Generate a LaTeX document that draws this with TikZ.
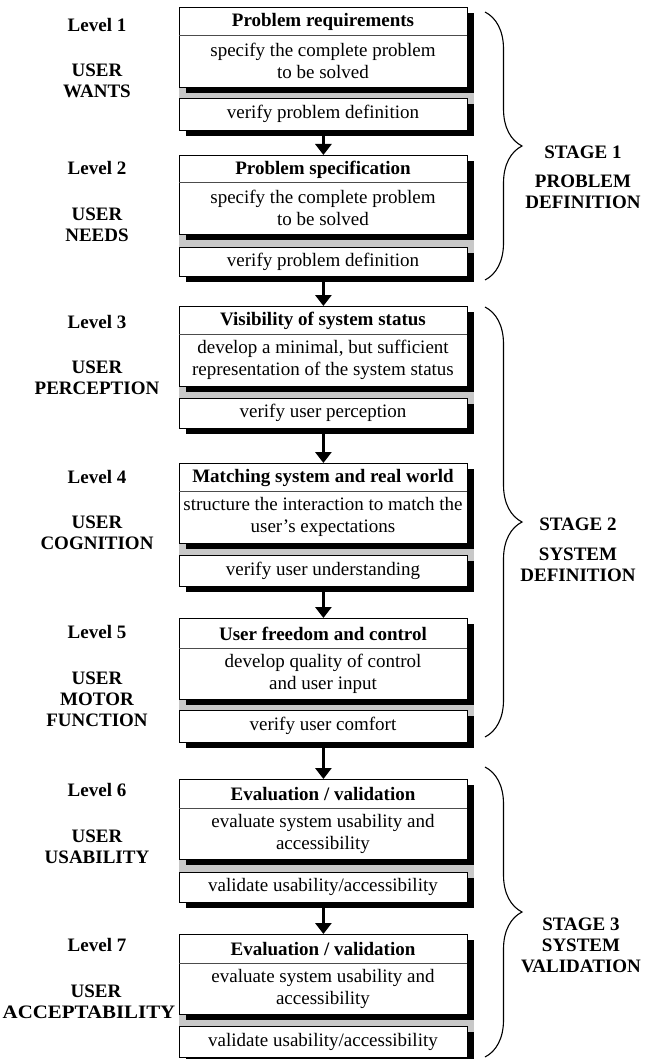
\documentclass[tikz,border=0pt]{standalone}
\usepackage{fontspec}
\setmainfont{Liberation Serif}
\usetikzlibrary{arrows.meta,decorations.pathreplacing}
\definecolor{bandgray}{RGB}{200,200,200}
\tikzset{
  boxnode/.style={draw=black, line width=0.8pt, fill=white, minimum width=288pt, inner sep=0pt, anchor=north west},
  sepline/.style={line width=0.6pt, black!70},
  titletxt/.style={font=\fontsize{19}{22}\selectfont\bfseries, inner sep=0pt},
  desctxt/.style={font=\fontsize{19}{22}\selectfont, align=center, inner sep=0pt},
  lbl/.style={font=\fontsize{19}{21}\selectfont\bfseries, align=center, inner sep=0pt},
  flowarrow/.style={line width=3pt, -{Triangle[width=16pt,length=11pt]}},
  stagebrace/.style={decorate, decoration={brace, amplitude=37pt, aspect=0.5}, line width=1.1pt},
}
% #1 name, #2 top, #3 sep, #4 bottom, #5 verify top, #6 verify bottom, #7 title, #8 desc, #9 verify text
\newcommand\mkLevel[9]{%
  \fill[bandgray] (179,#4) rectangle (474,#5+7);
  \fill[black] (186,#2+6) rectangle (474,#4+6);
  \fill[black] (186,#5+6) rectangle (474,#6+6);
  \node[boxnode, minimum height={(#4-#2)*1pt}] (#1m) at (179,#2) {};
  \draw[sepline] (179,#3) -- (467,#3);
  \node[titletxt] (#1t) at (323,{(#2+#3)/2+1}) {#7};
  \node[desctxt] (#1d) at (323,{(#3+#4)/2}) {#8};
  \node[boxnode, minimum height={(#6-#5)*1pt}] (#1v) at (179,#5) {};
  \node[desctxt] (#1vt) at (323,{(#5+#6)/2}) {#9};
}
\begin{document}
\begin{tikzpicture}[x=1pt,y=-1pt]
\useasboundingbox[fill=white] (0,0) rectangle (652,1059);

\mkLevel{A}{7}{35}{87}{98}{130}{Problem requirements}{specify the complete problem\\to be solved}{verify problem definition}
\mkLevel{B}{155}{182}{234}{247}{276}{Problem specification}{specify the complete problem\\to be solved}{verify problem definition}
\mkLevel{C}{306}{334}{386}{398}{428}{Visibility of system status}{develop a minimal, but sufficient\\representation of the system status}{verify user perception}
\mkLevel{D}{463}{491}{543}{555}{586}{Matching system and real world}{structure the interaction to match the\\user’s expectations}{verify user understanding}
\mkLevel{E}{618}{648}{699}{710}{742}{User freedom and control}{develop quality of control\\and user input}{verify user comfort}
\mkLevel{F}{779}{808}{859}{872}{902}{Evaluation / validation}{evaluate system usability and\\accessibility}{validate usability/accessibility}
\mkLevel{G}{934}{963}{1014}{1026}{1057}{Evaluation / validation}{evaluate system usability and\\accessibility}{validate usability/accessibility}

\draw[flowarrow] (Av.south) -- (Bm.north);
\draw[flowarrow] (Bv.south) -- (Cm.north);
\draw[flowarrow] (Cv.south) -- (Dm.north);
\draw[flowarrow] (Dv.south) -- (Em.north);
\draw[flowarrow] (Ev.south) -- (Fm.north);
\draw[flowarrow] (Fv.south) -- (Gm.north);

% left labels
\node[lbl] (l1) at (97,25) {Level 1};
\node[lbl] (u1) at (97,80.5) {USER\\WANTS};
\node[lbl] (l2) at (97,168) {Level 2};
\node[lbl] (u2) at (97,224.5) {USER\\NEEDS};
\node[lbl] (l3) at (97,322) {Level 3};
\node[lbl] (u3) at (97,377.5) {USER\\PERCEPTION};
\node[lbl] (l4) at (97,477) {Level 4};
\node[lbl] (u4) at (97,532.5) {USER\\COGNITION};
\node[lbl] (l5) at (97,632) {Level 5};
\node[lbl] (u5) at (97,699.5) {USER\\MOTOR\\FUNCTION};
\node[lbl] (l6) at (97,790) {Level 6};
\node[lbl] (u6) at (97,846.5) {USER\\USABILITY};
\node[lbl] (l7) at (97,945) {Level 7};
\node[lbl] (u7a) at (96,991) {USER};
\node[lbl, xscale=1.1] (u7b) at (89,1012) {ACCEPTABILITY};

% braces
\coordinate (b1s) at (485,12);
\coordinate (b1e) at (485,280);
\coordinate (b2s) at (485,307);
\coordinate (b2e) at (485,737);
\coordinate (b3s) at (485,767);
\coordinate (b3e) at (485,1057);
\draw[stagebrace] (b1s) -- (b1e);
\draw[stagebrace] (b2s) -- (b2e);
\draw[stagebrace] (b3s) -- (b3e);

\node[lbl] (s1) at (583,177) {STAGE 1\\[8pt]PROBLEM\\DEFINITION};
\node[lbl] (s2) at (578,550) {STAGE 2\\[9pt]SYSTEM\\DEFINITION};
\node[lbl] (s3) at (581,945) {STAGE 3\\SYSTEM\\VALIDATION};
\end{tikzpicture}
\end{document}
